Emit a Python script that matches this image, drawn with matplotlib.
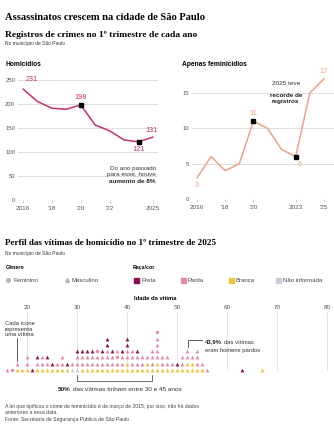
import matplotlib.pyplot as plt

W, H = 334, 436
SANS = 'Liberation Sans'
SERIF = 'Liberation Serif'

# --- data ---
years = list(range(2016, 2026))
homicidios = [231, 205, 191, 189, 198, 156, 144, 125, 121, 131]
feminicidios = [3, 6, 4, 5, 11, 10, 7, 6, 15, 17]
hom_ticks = [0, 50, 100, 150, 200, 250]
fem_ticks = [0, 5, 10, 15]
hom_xticks = [2016, 2018, 2020, 2022, 2025]
hom_xlabels = ['2016', "'18", "'20", "'22", '2025']
fem_xticks = [2016, 2018, 2020, 2023, 2025]
fem_xlabels = ['2016', "'18", "'20", '2023', "'25"]

# victims per age, bottom -> top; upper case = masculino, lower = feminino
# B branca, P parda, N preta, X nao informada
dot_ages = [16, 17, 18, 19, 20, 21, 22, 23, 24, 25, 26, 27, 28, 29,
            30, 31, 32, 33, 34, 35, 36, 37, 38, 39, 40, 41, 42, 43, 44, 45,
            46, 47, 48, 49, 50, 51, 52, 53, 54, 55, 56, 63, 67]
dot_stacks = ['P', 'p', 'BP', 'B', 'BPP', 'N', 'BPN', 'BPP', 'BPN', 'BN', 'BP', 'BPP', 'BN', 'XP',
              'XPPN', 'BPPN', 'BPPN', 'BPPN', 'BPPp', 'BPPN', 'BPPPNN', 'BPPN', 'BPpP', 'BPPN',
              'BBPPNN', 'BPPP', 'BPPN', 'BPP', 'BBP', 'BPPP',
              'BBPPPPp', 'BPP', 'BPP', 'BP', 'BN', 'BPP', 'BBPP', 'BBP', 'BPPP', 'BP', 'P', 'N', 'B']
age_ticks = [20, 30, 40, 50, 60, 70, 80]

race_colors = {'n': '#8a1150', 'p': '#e38aa9', 'b': '#ecc53a', 'x': '#cbcbdc'}
race_names = [('n', 'Preta'), ('p', 'Parda'), ('b', 'Branca'), ('x', 'Não informada')]

HOM_C = '#c8325f'
FEM_C = '#eea185'
GRID = '#dedede'
TXT = '#555555'

fig = plt.figure(figsize=(W / 100, H / 100), dpi=100)


def rect(x0, y0, x1, y1):
    return [x0 / W, 1 - y1 / H, (x1 - x0) / W, (y1 - y0) / H]


# overlay in pixel coordinates for the free texts, drawn above the charts
ov = fig.add_axes([0, 0, 1, 1])
ov.set_xlim(0, W)
ov.set_ylim(H, 0)
ov.axis('off')
ov.set_zorder(10)


def two_part(x, y, bold, rest, size, color='#333333'):
    # bold lead followed by regular text on the same baseline
    t = ov.text(x, y, bold, family=SANS, size=size, weight='bold', va='center', color='#222222')
    ov.annotate(rest, xy=(1, 0.5), xycoords=t, xytext=(1.5, 0), textcoords='offset points',
                family=SANS, size=size, va='center', ha='left', color=color)


ov.text(5, 17, 'Assassinatos crescem na cidade de São Paulo', family=SERIF, weight='bold', size=7.6, va='center')
ov.text(5, 35, 'Registros de crimes no 1º trimestre de cada ano', family=SERIF, weight='bold', size=6.8, va='center')
ov.text(5, 44, 'No município de São Paulo', family=SANS, size=3.5, va='center', color='#333333')
ov.text(5, 64, 'Homicídios', family=SANS, weight='bold', size=4.8, va='center')
ov.text(182, 64, 'Apenas feminicídios', family=SANS, weight='bold', size=4.8, va='center')


def style_line_ax(ax, yt, xt, xl):
    for s in ax.spines.values():
        s.set_visible(False)
    ax.patch.set_visible(False)
    ax.set_yticks(yt)
    ax.set_xticks(xt, xl)
    ax.grid(axis='y', color=GRID, lw=0.7)
    ax.set_axisbelow(True)
    ax.tick_params(axis='y', length=0, pad=2, labelsize=4.3, labelcolor=TXT)
    ax.tick_params(axis='x', length=2.5, width=0.5, color='#bbbbbb', pad=2, labelsize=4.6, labelcolor=TXT)
    for lab in ax.get_xticklabels() + ax.get_yticklabels():
        lab.set_family(SANS)


# --- homicidios ---
ax1 = fig.add_axes(rect(18, 78, 158, 200))
ax1.plot(years, homicidios, color=HOM_C, lw=1.1, solid_capstyle='round')
ax1.set_xlim(2015.65, 2025.35)
ax1.set_ylim(0, 254)
style_line_ax(ax1, hom_ticks, hom_xticks, hom_xlabels)
for i in [4, 8]:
    ax1.plot(years[i], homicidios[i], 's', color='black', ms=2.3)
lab_kw = dict(family=SANS, size=5.2, color=HOM_C, ha='center')
ax1.annotate(str(homicidios[0]), (years[0], homicidios[0]), xytext=(6, 4), textcoords='offset points', va='bottom', **lab_kw)
ax1.annotate(str(homicidios[4]), (years[4], homicidios[4]), xytext=(0, 3), textcoords='offset points', va='bottom', **lab_kw)
ax1.annotate(str(homicidios[8]), (years[8], homicidios[8]), xytext=(0, -3), textcoords='offset points', va='top', **lab_kw)
ax1.annotate(str(homicidios[9]), (years[9], homicidios[9]), xytext=(-1, 2), textcoords='offset points', va='bottom', **lab_kw)
ax1.text(2025.2, 48, 'Do ano passado\npara esse, houve', family=SANS, size=4.6, ha='right', va='bottom',
         color='#333333', linespacing=1.25)
ax1.text(2025.2, 44, 'aumento de 8%', family=SANS, size=4.6, ha='right', va='top', weight='bold', color='#222222')

# --- feminicidios ---
ax2 = fig.add_axes(rect(192, 70, 334, 199))
ax2.plot(years, feminicidios, color=FEM_C, lw=1.1)
ax2.set_xlim(2015.645, 2025.716)
ax2.set_ylim(0, 18.25)
style_line_ax(ax2, fem_ticks, fem_xticks, fem_xlabels)
for i in [4, 7]:
    ax2.plot(years[i], feminicidios[i], 's', color='black', ms=2.3)
flab = dict(family=SANS, size=5.2, color=FEM_C, ha='center')
ax2.annotate(str(feminicidios[0]), (years[0], feminicidios[0]), xytext=(0, -3), textcoords='offset points', va='top', **flab)
ax2.annotate(str(feminicidios[4]), (years[4], feminicidios[4]), xytext=(0, 3), textcoords='offset points', va='bottom', **flab)
ax2.annotate(str(feminicidios[7]), (years[7], feminicidios[7]), xytext=(3, -3), textcoords='offset points', va='top', **flab)
ax2.annotate(str(feminicidios[9]), (years[9], feminicidios[9]), xytext=(0, 3), textcoords='offset points', va='bottom', **flab)
ax2.text(2022.3, 16.4, '2025 teve', family=SANS, size=4.6, ha='center', va='center', color='#333333')
ax2.text(2022.3, 15.0, 'recorde de\nregistros', family=SANS, size=4.6, ha='center', va='top', weight='bold',
         color='#222222', linespacing=1.2)

# --- perfil das vitimas ---
ov.text(5, 243, 'Perfil das vítimas de homicídio no 1º trimestre de 2025', family=SERIF, weight='bold', size=6.6, va='center')
ov.text(5, 253, 'No município de São Paulo', family=SANS, size=3.5, va='center', color='#333333')
ov.text(6, 267, 'Gênero', family=SANS, size=3.8, weight='bold', va='center')
ov.text(133, 267, 'Raça/cor', family=SANS, size=3.8, weight='bold', va='center')
leg_kw = dict(family=SANS, size=4.3, va='center', color='#444444')
ov.plot(8, 280, 'o', color='#b5b5b5', ms=2.6)
ov.text(13, 280, 'Feminino', **leg_kw)
ov.plot(67, 280, '^', color='#b5b5b5', ms=2.8)
ov.text(72, 280, 'Masculino', **leg_kw)
for (code, name), lx in zip(race_names, [136, 183, 231, 278]):
    ov.plot(lx, 280, 's', color=race_colors[code], ms=3.6)
    ov.text(lx + 5, 280, name, **leg_kw)
ov.text(155, 298, 'Idade da vítima', family=SANS, size=4.2, weight='bold', ha='center', va='center')

ROW = 6.3
ax3 = fig.add_axes(rect(0, 312, W, 375))
ax3.patch.set_visible(False)
ax3.set_xlim(20 - 27 / 5, 20 + 307 / 5)
ax3.set_ylim((370 - 375) / ROW, (370 - 312) / ROW)
for s in ax3.spines.values():
    s.set_visible(False)
ax3.set_yticks([])
ax3.xaxis.tick_top()
ax3.set_xticks(age_ticks)
ax3.tick_params(axis='x', length=0, pad=1.5, labelsize=4.6, labelcolor=TXT)
for lab in ax3.get_xticklabels():
    lab.set_family(SANS)
ax3.vlines(age_ticks, 0, 9.2, color=GRID, lw=0.6, zorder=0)

for age, stack in zip(dot_ages, dot_stacks):
    for r, c in enumerate(stack):
        mk = '^' if c.isupper() else 'o'
        ax3.scatter(age, r, marker=mk, s=7.5 if mk == '^' else 6, color=race_colors[c.lower()],
                    linewidths=0, zorder=3, clip_on=False)

ann_kw = dict(family=SANS, size=4.2, color='#333333')
ax3.plot([18, 18], [1.5, 5.1], color='#444444', lw=0.6, clip_on=False)
ov.text(5, 329, 'Cada ícone\nrepresenta\numa vítima', va='center', ha='left', linespacing=1.15, **ann_kw)
ax3.plot([52.2, 52.2, 55.0], [3.6, 4.7, 4.7], color='#444444', lw=0.6, clip_on=False)
two_part(205, 342, '43,9%', 'das vítimas', 4.2)
ov.text(205, 350, 'eram homens pardos', va='center', ha='left', **ann_kw)
ax3.plot([30, 30, 45, 45], [-0.85, -1.7, -1.7, -0.85], color='#555555', lw=0.6, clip_on=False)

two_part(58, 389, '50%', 'das vítimas tinham entre 30 e 45 anos', 4.6)

foot_kw = dict(family=SANS, size=3.7, va='center', color='#444444')
ov.text(5, 406, 'A lei que tipificou o crime de feminicídio é de março de 2015, por isso, não há dados', **foot_kw)
ov.text(5, 412, 'anteriores a essa data.', **foot_kw)
ov.text(5, 419, 'Fonte: Secretaria de Segurança Pública de São Paulo', **foot_kw)

fig.savefig('out.png', dpi=100)
